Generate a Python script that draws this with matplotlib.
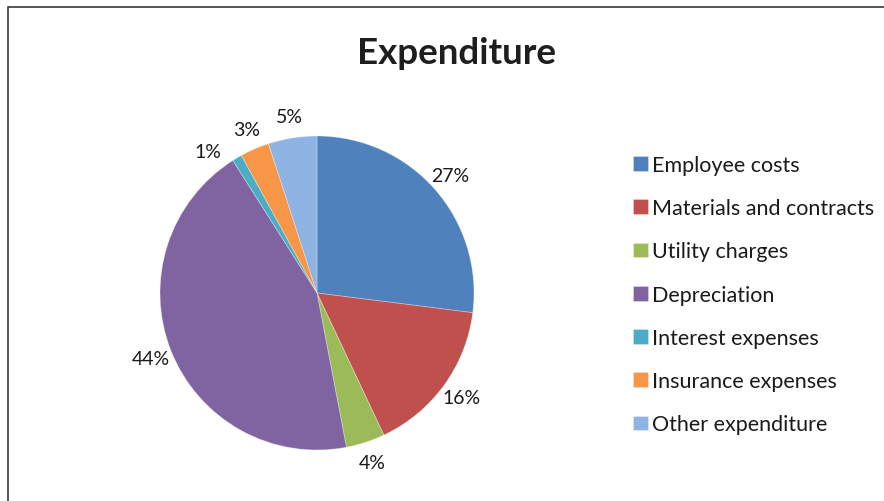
import numpy as np
import matplotlib
matplotlib.use("Agg")
import matplotlib.pyplot as plt
from matplotlib.patches import Rectangle

# Expenditure breakdown (percent of total)
categories = [
    "Employee costs",
    "Materials and contracts",
    "Utility charges",
    "Depreciation",
    "Interest expenses",
    "Insurance expenses",
    "Other expenditure",
]
shares = [27, 16, 4, 44, 1, 3, 5]
colors = ["#4F81BD", "#C0504D", "#9BBB59", "#8064A2", "#4BACC6", "#F79646", "#8EB4E3"]

FONT = "Lato"
W, H = 884, 502
fig = plt.figure(figsize=(W / 100, H / 100), dpi=100)
fig.patch.set_facecolor("white")

# chart frame (top and left edges visible)
fig.add_artist(Rectangle((8 / W, -0.02), 1.05, (H - 8) / H + 0.02,
                         transform=fig.transFigure, fill=False,
                         edgecolor="#3a3a3a", linewidth=1.2))

# pie axes: centre and radius in pixels
cx, cy, r = 317, 294, 157
ax = fig.add_axes([(cx - r) / W, (H - cy - r) / H, 2 * r / W, 2 * r / H])

label_dist = 1.135
wedges, texts, autotexts = ax.pie(
    shares, colors=colors, startangle=90, counterclock=False, radius=1,
    autopct=lambda p: f"{p:.0f}%", pctdistance=label_dist,
    wedgeprops=dict(linewidth=0.6, edgecolor="#ffffff55"),
)
ax.set_xlim(-1, 1)
ax.set_ylim(-1, 1)
ax.axis("off")
for t in autotexts:
    t.set_fontfamily(FONT)
    t.set_fontsize(14)
    t.set_color("#1a1a1a")

# nudge the tiny-slice label away from its neighbour
w = wedges[4]
ang = np.deg2rad((w.theta1 + w.theta2) / 2 + 7)
autotexts[4].set_position((label_dist * np.cos(ang), label_dist * np.sin(ang)))

fig.text(456 / W, 1 - 54 / H, "Expenditure", ha="center", va="center",
         fontfamily=FONT, fontweight="bold", fontsize=26.5, color="#1e1e1e")

leg = fig.legend(wedges, categories, loc="upper left",
                 bbox_to_anchor=(633 / W, 1 - 156 / H),
                 frameon=False, prop=dict(family=FONT, size=15.5),
                 handlelength=0.68, handleheight=0.68, handletextpad=0.2,
                 labelspacing=1.08, borderpad=0, borderaxespad=0)
for t in leg.get_texts():
    t.set_color("#1a1a1a")

fig.savefig("out.png", dpi=100, facecolor="white")
